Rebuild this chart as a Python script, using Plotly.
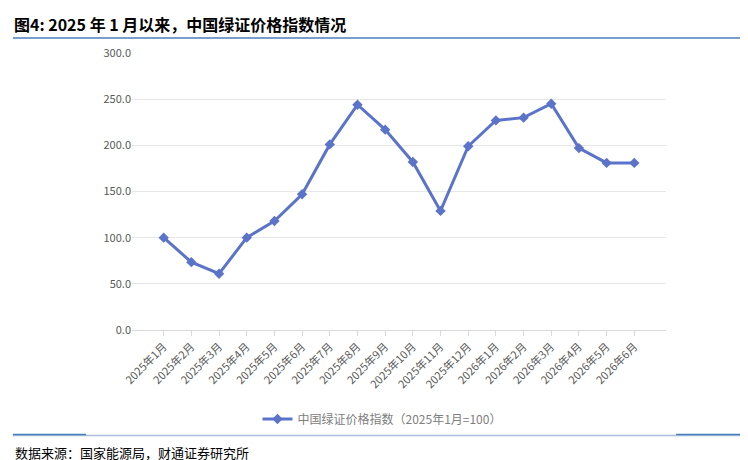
import plotly.graph_objects as go

months = ["2025年1月","2025年2月","2025年3月","2025年4月","2025年5月","2025年6月","2025年7月","2025年8月","2025年9月",
          "2025年10月","2025年11月","2025年12月","2026年1月","2026年2月","2026年3月","2026年4月","2026年5月","2026年6月"]
values = [100, 73.5, 61, 100, 118, 147, 201, 244, 217, 182, 129, 199, 227, 230, 245, 197, 181, 181]
yticks = [0, 50, 100, 150, 200, 250, 300]

fig = go.Figure(go.Scatter(x=months, y=values, mode="lines+markers", name="中国绿证价格指数（2025年1月=100）",
    line=dict(color="#5B74C9", width=3), marker=dict(symbol="diamond", size=8, color="#5B74C9")))
F = "Noto Sans CJK SC"
fig.update_layout(width=748, height=460, paper_bgcolor="white", plot_bgcolor="white",
    margin=dict(l=124, r=90, t=45, b=138, autoexpand=False),
    font=dict(family=F, color="#595959", size=11),
    showlegend=True,
    legend=dict(orientation="h", x=0.5, xanchor="center", xref="container", y=1-411/460, yref="container", yanchor="middle",
                font=dict(size=12, color="#808080")),
    title=dict(text="<b>图4: 2025 年 1 月以来，中国绿证价格指数情况</b>", x=0.008, y=1-17/460, xanchor="left", yanchor="middle",
               font=dict(family="Noto Sans CJK SC", size=16, color="black")),
    xaxis=dict(type="category", tickangle=-45, showline=True, linecolor="#D9D9D9", ticks="outside", ticklen=5, tickcolor="#D9D9D9",
               showgrid=False, automargin=False, tickfont=dict(size=11, color="#595959")),
    yaxis=dict(range=[0, 300], tickvals=yticks, tickformat=".1f", showgrid=True, gridcolor="#E6E6E6", zeroline=False,
               automargin=False, tickfont=dict(size=11, color="#595959")),
    shapes=[
        dict(type="line", xref="paper", yref="paper", x0=-0.223, x1=1.159, y0=1.054, y1=1.054, line=dict(color="#4A7EBB", width=1.5)),
        dict(type="line", xref="paper", yref="paper", x0=-0.223, x1=1.159, y0=-0.381, y1=-0.381, line=dict(color="#A9BFE0", width=1.5)),
        dict(type="line", xref="paper", yref="paper", x0=-0.223, x1=-0.086, y0=-0.377, y1=-0.377, line=dict(color="#4A7EBB", width=1.5)),
        dict(type="line", xref="paper", yref="paper", x0=1.019, x1=1.159, y0=-0.377, y1=-0.377, line=dict(color="#4A7EBB", width=1.5)),
    ],
    annotations=[dict(text="数据来源：国家能源局，财通证券研究所", xref="paper", yref="paper", x=-0.223, y=-0.444, xanchor="left", yanchor="middle",
                      showarrow=False, font=dict(size=13, color="black"))])
fig.write_html("out.html")
